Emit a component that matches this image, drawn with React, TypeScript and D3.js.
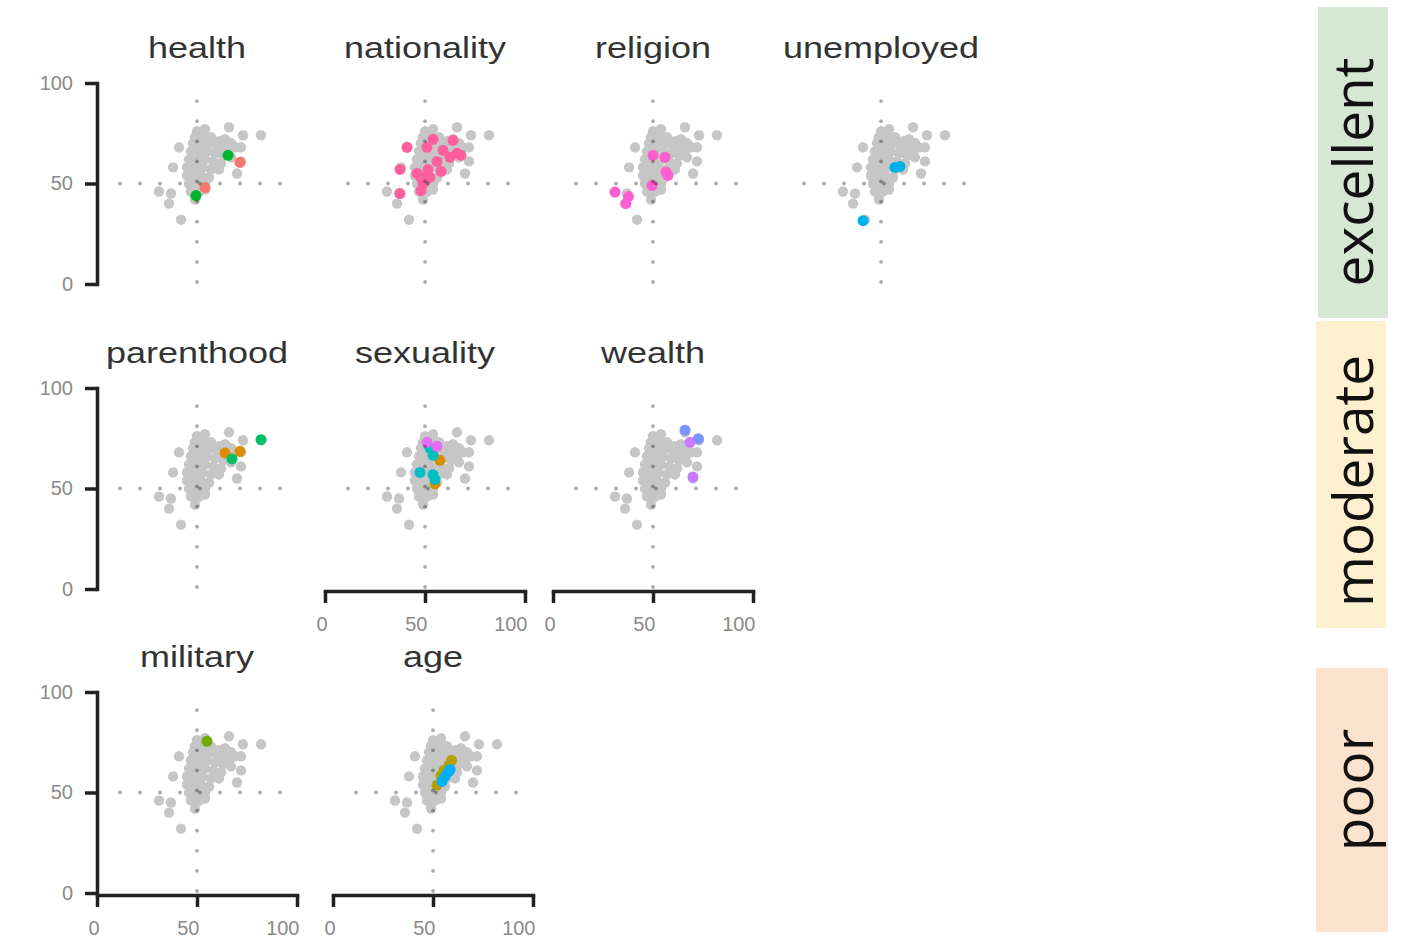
import React, { useRef, useEffect } from 'react';
import * as d3 from 'd3';

type Pt = [number, number];

// full sample, drawn grey in every facet
const grayCloud: Pt[] = [
  [82, 74], [66, 78], [73, 74], [69, 68], [72, 68], [72, 61], [70, 55],
  [41, 68], [38, 58], [31, 46], [37, 45], [36, 40], [42, 32],
  [50, 76], [54, 77],
  [49, 73], [53, 73], [57, 73], [61, 71], [64, 72], [67, 70],
  [48, 70], [52, 70], [56, 70], [60, 68], [63, 68], [66, 66],
  [47, 66], [51, 66], [55, 66], [59, 65], [63, 64], [67, 63],
  [46, 62], [50, 62], [54, 62], [58, 61], [62, 60],
  [45, 58], [49, 58], [53, 58], [57, 57], [61, 57],
  [45, 54], [48, 54], [52, 54], [56, 53],
  [46, 50], [50, 50], [54, 50],
  [47, 46], [51, 46], [54, 47],
  [49, 42],
];

// highlighted groups per facet
const healthA: Pt[] = [[71.5, 60.5], [54, 48]];
const healthB: Pt[] = [[65.5, 64], [49.5, 44]];
const nationalityA: Pt[] = [
  [41, 68], [37.5, 57], [37.5, 45], [48, 46.5], [54, 72], [51, 68], [64, 71.5],
  [66, 65], [59, 66.5], [56, 61], [51.5, 57], [46, 55], [52.5, 53], [49, 50],
  [58, 56], [62.5, 63], [68, 64], [48, 53],
];
const religionA: Pt[] = [
  [50, 64], [56, 63], [56.5, 55.7], [57.5, 54], [49.5, 49], [31, 45.7], [37.7, 43.5], [36.5, 40],
];
const unemployedA: Pt[] = [[57, 58], [59.5, 58.5], [41, 31.5]];
const parenthoodA: Pt[] = [[64, 67.7], [71.5, 68.5]];
const parenthoodB: Pt[] = [[67.5, 64.7], [82, 74.3]];
const sexualityA: Pt[] = [[57.5, 64], [55, 52.3]];
const sexualityB: Pt[] = [[52.5, 70], [54, 66.5], [47.5, 58], [54, 57], [55, 54.5]];
const sexualityC: Pt[] = [[51, 73], [56, 71]];
const wealthA: Pt[] = [[66, 79], [72.7, 74.8]];
const wealthB: Pt[] = [[68.5, 73], [70, 55.7]];
const militaryA: Pt[] = [[55, 75.5]];
const ageA: Pt[] = [[59.3, 66], [58, 63.5], [55.5, 61], [54, 58.5], [52, 53.7]];
const ageB: Pt[] = [[57.7, 60.3], [56, 58], [54.5, 55.5], [58.5, 61.5]];

const ratings = ['excellent', 'moderate', 'poor'];
const axisTicks = [0, 50, 100];
const hDots = d3.range(11.5, 95, 10);
const vDots = d3.range(1, 95, 10);

interface Group { pts: Pt[]; color: string }
interface PanelDef {
  title: string;
  x0: number;
  y0: number;
  showY: boolean;
  showX: boolean;
  groups: Group[];
}

const panels: PanelDef[] = [
  { title: 'health', x0: 97, y0: 284, showY: true, showX: false,
    groups: [{ pts: healthA, color: '#f8766d' }, { pts: healthB, color: '#00b530' }] },
  { title: 'nationality', x0: 325, y0: 284, showY: false, showX: false,
    groups: [{ pts: nationalityA, color: '#ff5f9c' }] },
  { title: 'religion', x0: 553, y0: 284, showY: false, showX: false,
    groups: [{ pts: religionA, color: '#fd5fd0' }] },
  { title: 'unemployed', x0: 781, y0: 284, showY: false, showX: false,
    groups: [{ pts: unemployedA, color: '#00b1e8' }] },
  { title: 'parenthood', x0: 97, y0: 589, showY: true, showX: false,
    groups: [{ pts: parenthoodA, color: '#de8c00' }, { pts: parenthoodB, color: '#00c065' }] },
  { title: 'sexuality', x0: 325, y0: 589, showY: false, showX: true,
    groups: [
      { pts: sexualityA, color: '#d99000' },
      { pts: sexualityB, color: '#00bfc4' },
      { pts: sexualityC, color: '#e76bf3' },
    ] },
  { title: 'wealth', x0: 553, y0: 589, showY: false, showX: true,
    groups: [{ pts: wealthA, color: '#7b92ff' }, { pts: wealthB, color: '#c77cff' }] },
  { title: 'military', x0: 97, y0: 893, showY: true, showX: true,
    groups: [{ pts: militaryA, color: '#72aa00' }] },
  { title: 'age', x0: 333, y0: 893, showY: false, showX: true,
    groups: [{ pts: ageA, color: '#b5a000' }, { pts: ageB, color: '#00b0f4' }] },
];

const strips = [
  { x: 1318, y: 7, w: 70, h: 311, fill: '#d6e8d3', cy: 172 },
  { x: 1316, y: 321, w: 70, h: 307, fill: '#fff1cf', cy: 481 },
  { x: 1316, y: 668, w: 72, h: 264, fill: '#fbe3cd', cy: 790 },
];

const styleAxis = (g: d3.Selection<SVGGElement, unknown, null, undefined>) => {
  g.attr('font-family', '"Liberation Sans", Arial, sans-serif').attr('font-size', 20);
  g.select('.domain').attr('stroke', '#222').attr('stroke-width', 3.5).attr('stroke-linecap', 'square');
  g.selectAll('.tick line').attr('stroke', '#222').attr('stroke-width', 3.5);
  g.selectAll('.tick text').attr('fill', '#8a8a8a');
};

const Panel: React.FC<PanelDef> = ({ title, x0, y0, showY, showX, groups }) => {
  const yRef = useRef<SVGGElement | null>(null);
  const xRef = useRef<SVGGElement | null>(null);
  const x = d3.scaleLinear().domain([0, 100]).range([x0, x0 + 200]);
  const y = d3.scaleLinear().domain([0, 100]).range([y0, y0 - 201]);

  useEffect(() => {
    if (showY && yRef.current) {
      const g = d3.select(yRef.current);
      g.selectAll('*').remove();
      g.call(d3.axisLeft(y).tickValues(axisTicks).tickSize(12).tickSizeOuter(0));
      styleAxis(g);
      g.selectAll('.tick text').attr('x', -24);
    }
    if (showX && xRef.current) {
      const g = d3.select(xRef.current);
      g.selectAll('*').remove();
      g.call(d3.axisBottom(x).tickValues(axisTicks).tickSize(12).tickSizeOuter(0));
      styleAxis(g);
      g.selectAll('.tick text').attr('text-anchor', 'end').attr('x', 2).attr('y', 40).attr('dy', 0);
    }
  }, [x0, y0, showX, showY]);

  return (
    <g>
      <text
        transform={`translate(${x(50)},${y0 - 226}) scale(1.2,1)`}
        textAnchor="middle"
        fontFamily='"Liberation Sans", Arial, sans-serif'
        fontSize={30}
        fill="#333"
      >
        {title}
      </text>
      {grayCloud.map((d, i) => (
        <circle key={'g' + i} cx={x(d[0])} cy={y(d[1])} r={5.2} fill="#c6c6c6" />
      ))}
      {groups.map((grp, gi) =>
        grp.pts.map((d, i) => (
          <circle key={`c${gi}-${i}`} cx={x(d[0])} cy={y(d[1])} r={5.5} fill={grp.color} />
        ))
      )}
      {hDots.map((v, i) => (
        <circle key={'h' + i} cx={x(v)} cy={y(50)} r={1.9} fill="rgba(0,0,0,0.33)" />
      ))}
      {vDots.map((v, i) => (
        <circle key={'v' + i} cx={x(50)} cy={y(v)} r={1.9} fill="rgba(0,0,0,0.33)" />
      ))}
      {showY && <g ref={yRef} transform={`translate(${x0},0)`} />}
      {showX && <g ref={xRef} transform={`translate(0,${y0 + 2})`} />}
    </g>
  );
};

const App: React.FC = () => {
  return (
    <svg
      width={1415}
      height={952}
      style={{ position: 'absolute', left: 0, top: 0, display: 'block', background: '#fff' }}
    >
      {panels.map(p => (
        <Panel key={p.title} {...p} />
      ))}
      {strips.map((s, i) => (
        <g key={ratings[i]}>
          <rect x={s.x} y={s.y} width={s.w} height={s.h} fill={s.fill} />
          <text
            transform={`translate(1373,${s.cy}) rotate(-90)`}
            textAnchor="middle"
            fontFamily='"Open Sans", "Noto Sans", sans-serif'
            fontSize={55}
            fill="#111"
          >
            {ratings[i]}
          </text>
        </g>
      ))}
    </svg>
  );
};

export default App;
